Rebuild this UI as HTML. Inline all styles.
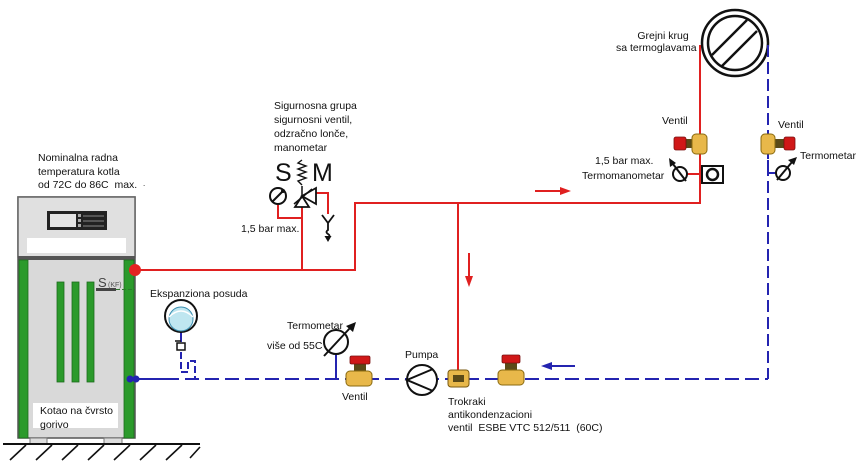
<!DOCTYPE html>
<html><head><meta charset="utf-8"><style>
html,body{margin:0;padding:0;background:#fff;}
svg{display:block;}
text{font-family:"Liberation Sans",sans-serif;font-size:10.5px;fill:#111;white-space:pre;}
</style></head><body>
<svg width="865" height="468" viewBox="0 0 865 468" xmlns="http://www.w3.org/2000/svg">
<rect width="865" height="468" fill="#fff"/>

<!-- Boiler -->
<rect x="18" y="197" width="117" height="241" fill="#d9d9d9" stroke="#555" stroke-width="1.5"/>
<rect x="18" y="197" width="117" height="60" fill="#e0e0e0" stroke="#666" stroke-width="1.5"/>
<rect x="18" y="256" width="117" height="4" fill="#555"/>
<rect x="47" y="211" width="60" height="19" fill="#222"/>
<rect x="50" y="214" width="26" height="13" fill="#e4e4e4"/>
<rect x="78" y="214" width="3" height="3" fill="#aaa"/>
<rect x="78" y="219" width="3" height="3" fill="#aaa"/>
<rect x="78" y="224" width="3" height="3" fill="#aaa"/>
<line x1="83" y1="216" x2="104" y2="216" stroke="#888" stroke-width="1"/>
<line x1="83" y1="221" x2="104" y2="221" stroke="#888" stroke-width="1"/>
<line x1="83" y1="226" x2="104" y2="226" stroke="#888" stroke-width="1"/>
<rect x="27" y="238" width="99" height="15" fill="#fff"/>
<rect x="19" y="260" width="9" height="178" fill="#2b9a2b" stroke="#1d6b1d" stroke-width="0.8"/>
<rect x="124" y="260" width="10" height="178" fill="#2b9a2b" stroke="#1d6b1d" stroke-width="0.8"/>
<rect x="57" y="282" width="7" height="100" fill="#2b9a2b" stroke="#1d6b1d" stroke-width="0.8"/>
<rect x="72" y="282" width="7" height="100" fill="#2b9a2b" stroke="#1d6b1d" stroke-width="0.8"/>
<rect x="87" y="282" width="7" height="100" fill="#2b9a2b" stroke="#1d6b1d" stroke-width="0.8"/>
<rect x="33" y="403" width="85" height="25" fill="#fff"/>
<text x="40" y="414">Kotao na čvrsto</text>
<text x="40" y="428">gorivo</text>
<rect x="30" y="438" width="17" height="6" fill="#ddd" stroke="#777"/>
<rect x="104" y="438" width="18" height="6" fill="#ddd" stroke="#777"/>
<!-- S(KF) sensor -->
<text x="98" y="287" style="font-size:13px;fill:#444">S</text>
<text x="108" y="287" style="font-size:7px;fill:#555">(KF)</text>
<rect x="96" y="288" width="20" height="3" fill="#444"/>
<line x1="116" y1="289.5" x2="135" y2="289.5" stroke="#2b7a2b" stroke-width="1" stroke-dasharray="4,2"/>

<!-- Ground -->
<line x1="3" y1="444" x2="200" y2="444" stroke="#111" stroke-width="2"/>
<g stroke="#111" stroke-width="1.6">
<line x1="10" y1="460" x2="26" y2="445"/>
<line x1="36" y1="460" x2="52" y2="445"/>
<line x1="62" y1="460" x2="78" y2="445"/>
<line x1="88" y1="460" x2="104" y2="445"/>
<line x1="114" y1="460" x2="130" y2="445"/>
<line x1="140" y1="460" x2="156" y2="445"/>
<line x1="166" y1="460" x2="182" y2="445"/>
<line x1="190" y1="458" x2="200" y2="447"/>
</g>

<!-- Red supply pipes -->
<g stroke="#e02020" stroke-width="2" fill="none">
<path d="M135 270 H355 V203 H700 V45"/>
<path d="M302 270 V206"/>
<path d="M278 205 V218 H302"/>
<path d="M458 203 V370"/>
<path d="M316 193 H328 V214"/>
<path d="M687 174 H700"/>
</g>
<circle cx="135" cy="270" r="6" fill="#e52222"/>

<!-- Red arrows -->
<line x1="535" y1="191" x2="561" y2="191" stroke="#e02020" stroke-width="2"/>
<polygon points="560,187 571,191 560,195" fill="#e02020"/>
<line x1="469" y1="253" x2="469" y2="277" stroke="#e02020" stroke-width="2"/>
<polygon points="465,276 473,276 469,287" fill="#e02020"/>

<!-- Safety group -->
<text x="274" y="109">Sigurnosna grupa</text>
<text x="274" y="123">sigurnosni ventil,</text>
<text x="274" y="137">odzračno lonče,</text>
<text x="274" y="151">manometar</text>
<text x="275" y="181" style="font-size:25px">S</text>
<text x="312" y="181" style="font-size:25px">M</text>
<polyline points="302,160 298,163 306,166 298,169 306,172 298,175 306,178 298,181 302,185" fill="none" stroke="#111" stroke-width="1.4"/>
<polygon points="302,196 295,207 309,207" fill="#fff" stroke="#111" stroke-width="1.8"/>
<polygon points="302,196 316,188 316,204" fill="#fff" stroke="#111" stroke-width="1.8"/>
<line x1="302" y1="186" x2="302" y2="196" stroke="#111" stroke-width="1.5"/>
<line x1="294" y1="204" x2="312" y2="189" stroke="#111" stroke-width="1.5"/>
<circle cx="278" cy="196" r="8" fill="#fff" stroke="#111" stroke-width="2"/>
<line x1="272" y1="202" x2="284" y2="190" stroke="#111" stroke-width="2"/>
<circle cx="283" cy="191" r="2" fill="#111"/>
<path d="M322 215 L328 223 L334 215 M328 223 V230 Q325 232 328 234 Q331 236 328 237" fill="none" stroke="#111" stroke-width="1.8"/>
<polygon points="324.5,236 331.5,236 328,242" fill="#111"/>
<text x="241" y="232">1,5 bar max.</text>

<!-- Nominal text -->
<text x="38" y="161">Nominalna radna</text>
<text x="38" y="175">temperatura kotla</text>
<text x="38" y="188">od 72C do 86C  max.</text>
<text x="143" y="186" style="font-size:8px">.</text>

<!-- Radiator -->
<circle cx="735" cy="43" r="33" fill="#fff" stroke="#111" stroke-width="2.5"/>
<circle cx="735" cy="43" r="27" fill="#fff" stroke="#111" stroke-width="2.5"/>
<line x1="712" y1="55" x2="747" y2="20" stroke="#111" stroke-width="2.5"/>
<line x1="722" y1="66" x2="757" y2="31" stroke="#111" stroke-width="2.5"/>
<text x="663" y="39" text-anchor="middle">Grejni krug</text>
<text x="616" y="51">sa termoglavama</text>

<!-- Blue return -->
<g stroke="#2424b0" stroke-width="2" fill="none">
<path d="M768 45 V379" stroke-dasharray="12,5"/>
<path d="M165 379 H768" stroke-dasharray="14,6"/>
<path d="M135 379 H165"/>
<path d="M768 160 V173 H776"/>
<path d="M336 354 V379"/>
<path d="M181 332 V342"/>
<path d="M181 352 V372 H188 V361 H195 V379" stroke-dasharray="7,3"/>
</g>
<circle cx="130" cy="379" r="3.5" fill="#2424b0"/>
<circle cx="136" cy="379" r="3.5" fill="#2424b0"/>

<!-- Blue arrow -->
<line x1="575" y1="366" x2="551" y2="366" stroke="#2424b0" stroke-width="2"/>
<polygon points="552,362 541,366 552,370" fill="#2424b0"/>

<!-- Top left valve -->
<text x="662" y="124">Ventil</text>
<rect x="686" y="139" width="7" height="9" fill="#5a4a18"/>
<rect x="674" y="137" width="12" height="13" rx="2" fill="#d01818" stroke="#7a1010" stroke-width="0.8"/>
<rect x="692" y="134" width="15" height="20" rx="4" fill="#e8b84a" stroke="#8a6a10" stroke-width="1"/>
<circle cx="680" cy="174" r="7" fill="#fff" stroke="#111" stroke-width="2"/>
<line x1="686" y1="181" x2="673" y2="164" stroke="#111" stroke-width="2"/>
<polygon points="669,158 676,163 670,167" fill="#111"/>
<rect x="702" y="166" width="21" height="17" fill="#fff" stroke="#111" stroke-width="2"/>
<circle cx="712.5" cy="174.5" r="5.5" fill="#fff" stroke="#111" stroke-width="2.5"/>
<text x="595" y="164">1,5 bar max.</text>
<text x="582" y="179">Termomanometar</text>

<!-- Top right valve -->
<text x="778" y="128">Ventil</text>
<rect x="775" y="139" width="9" height="9" fill="#5a4a18"/>
<rect x="784" y="137" width="11" height="13" rx="2" fill="#d01818" stroke="#7a1010" stroke-width="0.8"/>
<rect x="761" y="134" width="14" height="20" rx="4" fill="#e8b84a" stroke="#8a6a10" stroke-width="1"/>
<circle cx="783" cy="173" r="7" fill="#fff" stroke="#111" stroke-width="2"/>
<line x1="777" y1="180" x2="792" y2="162" stroke="#111" stroke-width="2"/>
<polygon points="797,157 794,165 788,160" fill="#111"/>
<text x="800" y="159">Termometar</text>

<!-- Expansion tank -->
<text x="150" y="297">Ekspanziona posuda</text>
<circle cx="181" cy="316" r="16" fill="#fff" stroke="#111" stroke-width="2"/>
<circle cx="181" cy="319" r="12" fill="#bfe6f0" stroke="#3a8fb0" stroke-width="1"/>
<path d="M169 317 Q181 305 193 317" fill="none" stroke="#fff" stroke-width="1.5"/>
<rect x="177" y="343" width="8" height="7" fill="#fff" stroke="#111" stroke-width="1.5"/>
<line x1="175" y1="341" x2="181" y2="341" stroke="#111" stroke-width="1.5"/>

<!-- Lower thermometer -->
<circle cx="336" cy="342" r="12" fill="#fff" stroke="#111" stroke-width="2"/>
<line x1="324" y1="356" x2="350" y2="328" stroke="#111" stroke-width="2"/>
<polygon points="356,322 353,332 346,326" fill="#111"/>
<text x="287" y="329">Termometar</text>
<text x="267" y="349">više od 55C</text>

<!-- Lower valve -->
<rect x="354" y="363" width="12" height="9" fill="#5a4a18"/>
<rect x="350" y="356" width="20" height="8" rx="1.5" fill="#d01818" stroke="#7a1010" stroke-width="0.8"/>
<rect x="346" y="371" width="26" height="15" rx="4" fill="#e8b84a" stroke="#8a6a10" stroke-width="1"/>
<text x="342" y="400">Ventil</text>

<!-- Pump -->
<circle cx="422" cy="380" r="15" fill="#fff" stroke="#111" stroke-width="2"/>
<path d="M433 369 L407 380 L433 391" fill="none" stroke="#111" stroke-width="2"/>
<text x="405" y="358">Pumpa</text>

<!-- Three-way valve -->
<rect x="448" y="370" width="21" height="17" rx="3" fill="#e8b84a" stroke="#7a5a10" stroke-width="1"/>
<rect x="453" y="375" width="11" height="7" fill="#5a4a18"/>

<!-- Valve 2 -->
<rect x="505" y="362" width="12" height="9" fill="#5a4a18"/>
<rect x="502" y="355" width="18" height="8" rx="1.5" fill="#d01818" stroke="#7a1010" stroke-width="0.8"/>
<rect x="498" y="370" width="26" height="15" rx="4" fill="#e8b84a" stroke="#8a6a10" stroke-width="1"/>

<text x="448" y="405">Trokraki</text>
<text x="448" y="418">antikondenzacioni</text>
<text x="448" y="431">ventil  ESBE VTC 512/511  (60C)</text>
</svg>
</body></html>
